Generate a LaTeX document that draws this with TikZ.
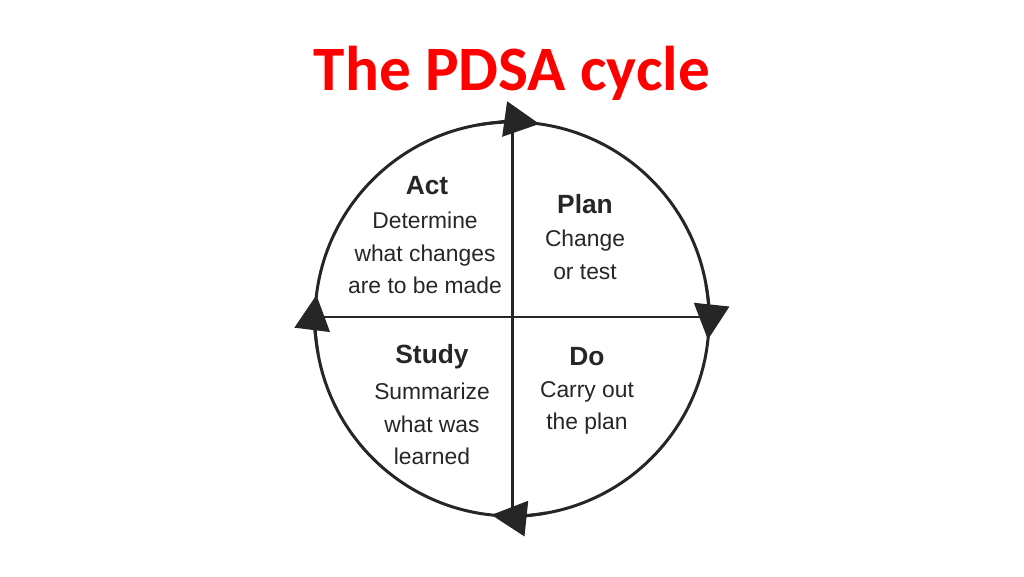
\documentclass[tikz,border=0pt]{standalone}
\usepackage{fontspec}
\setmainfont{Liberation Sans}
\newfontfamily\titlefont{Carlito}
\usetikzlibrary{arrows.meta}
\tikzset{
  head/.style={font=\bfseries\fontsize{15}{18}\selectfont, text=black!85},
  body/.style={font=\fontsize{13}{18.5}\selectfont, align=center, text=black!85},
  cyc/.style={line width=1.7pt, black!85, -{Triangle[length=20pt,width=20pt]}}
}
\begin{document}
\begin{tikzpicture}[x=0.02cm,y=0.02cm]
  \useasboundingbox (0,0) rectangle (1024,576);
  % title
  \node[font=\titlefont\bfseries\fontsize{36}{40}\selectfont, text=red] (title) at (512,503) {The PDSA cycle};
  % circle and axes
  \draw[line width=1.7pt, black!85] (512,257) circle[radius=197];
  \draw[line width=1.7pt, black!85] (512,454) -- (512,49);
  \draw[line width=1.7pt, black!85] (315,259) -- (709,259);
  % arrow heads
  \draw[cyc] (512,257) ++(100:197) arc[start angle=100, end angle=82, radius=197];
  \draw[cyc] (512,257) ++(10:197) arc[start angle=10, end angle=-6, radius=197];
  \draw[cyc] (512,257) ++(280:197) arc[start angle=280, end angle=264, radius=197];
  \draw[cyc] (512,257) ++(190:197) arc[start angle=190, end angle=173, radius=197];
  % quadrant texts
  \node[head] (act) at (427,390) {Act};
  \node[body] (actb) at (425,323) {Determine\\what changes\\are to be made};
  \node[head] (plan) at (585,372) {Plan};
  \node[body] (planb) at (585,321) {Change\\or test};
  \node[head] (study) at (432,219) {Study};
  \node[body] (studyb) at (432,152) {Summarize\\what was\\learned};
  \node[head] (do) at (587,219) {Do};
  \node[body] (dob) at (587,168) {Carry out\\the plan};
\end{tikzpicture}
\end{document}
